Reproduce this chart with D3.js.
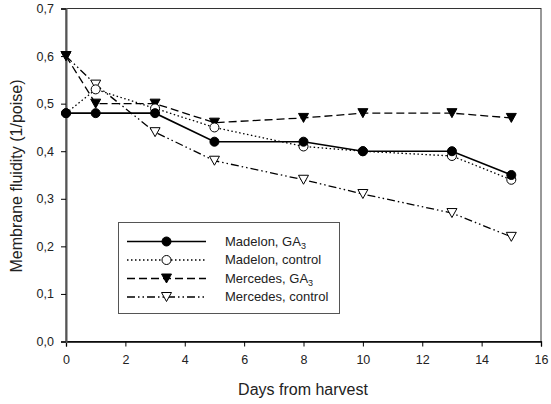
<!DOCTYPE html>
<html>
<head>
<meta charset="utf-8">
<script src="https://cdn.jsdelivr.net/npm/d3@7"></script>
<style>
  html, body { margin: 0; padding: 0; background: #fff; }
  svg { display: block; }
  text { font-family: Arial, "Liberation Sans", sans-serif; fill: #222; }
</style>
</head>
<body>
<svg id="chart" width="551" height="404"></svg>
<script>
// Days after harvest at which membrane fluidity was measured
const days = [0, 1, 3, 5, 8, 10, 13, 15];

// Membrane fluidity (1/poise) per cultivar and treatment
const madelonGA3      = [0.48, 0.48, 0.48, 0.42, 0.42, 0.40, 0.40, 0.35];
const madelonControl  = [0.48, 0.53, 0.49, 0.45, 0.41, 0.40, 0.39, 0.34];
const mercedesGA3     = [0.60, 0.50, 0.50, 0.46, 0.47, 0.48, 0.48, 0.47];
const mercedesControl = [0.60, 0.54, 0.44, 0.38, 0.34, 0.31, 0.27, 0.22];

const seriesNames = ["Madelon, GA", "Madelon, control", "Mercedes, GA", "Mercedes, control"];
const seriesSub   = ["3", "", "3", ""];

const xTicks = [0, 2, 4, 6, 8, 10, 12, 14, 16];
const yTicks = [0, 0.1, 0.2, 0.3, 0.4, 0.5, 0.6, 0.7];

const series = [
  { name: seriesNames[0], sub: seriesSub[0], values: madelonGA3,      dash: null,              marker: "circle",   fill: "#000" },
  { name: seriesNames[1], sub: seriesSub[1], values: madelonControl,  dash: "1.5,2.5",         marker: "circle",   fill: "#fff" },
  { name: seriesNames[2], sub: seriesSub[2], values: mercedesGA3,     dash: "8,4",             marker: "triangle", fill: "#000" },
  { name: seriesNames[3], sub: seriesSub[3], values: mercedesControl, dash: "8,3,1.5,3,1.5,3", marker: "triangle", fill: "#fff" }
];

const svg = d3.select("#chart");
const plotL = 66, plotR = 541, plotT = 8.5, plotB = 341.5;

const x = d3.scaleLinear().domain([0, 16]).range([plotL, plotR]);
const y = d3.scaleLinear().domain([0, 0.7]).range([plotB, plotT]);

const fmt = d => d3.format(".1f")(d).replace(".", ",");

// Frame
svg.append("rect")
  .attr("x", plotL).attr("y", plotT)
  .attr("width", plotR - plotL).attr("height", plotB - plotT)
  .attr("fill", "none").attr("stroke", "#333").attr("stroke-width", 1);

// Axes
const xAxis = svg.append("g")
  .attr("transform", `translate(0,${plotB})`)
  .call(d3.axisBottom(x).tickValues(xTicks).tickFormat(d3.format("d")).tickSizeOuter(0).tickSize(5).tickPadding(9));
const yAxis = svg.append("g")
  .attr("transform", `translate(${plotL},0)`)
  .call(d3.axisLeft(y).tickValues(yTicks).tickFormat(fmt).tickSizeOuter(0).tickSize(5).tickPadding(7));

[xAxis, yAxis].forEach(g => {
  g.select(".domain").attr("stroke", "#000").attr("stroke-width", 1.3);
  g.selectAll(".tick line").attr("stroke", "#000");
  g.selectAll(".tick text").attr("font-size", 12.5).attr("fill", "#222")
    .attr("font-family", "Arial, 'Liberation Sans', sans-serif");
});
yAxis.select(".domain").attr("stroke", "#555").attr("stroke-width", 2);

// Axis titles
svg.append("text")
  .attr("x", 303).attr("y", 394.5)
  .attr("text-anchor", "middle").attr("font-size", 16)
  .text("Days from harvest");
svg.append("text")
  .attr("transform", `translate(22,176) rotate(-90)`)
  .attr("text-anchor", "middle").attr("font-size", 16)
  .text("Membrane fluidity (1/poise)");

// Marker drawing
const circleSym = d3.symbol().type(d3.symbolCircle).size(64);
function triPath(s) {
  // downward-pointing triangle centred on the point
  const h = s * 0.9;
  return `M${-s / 2},${-h / 2}L${s / 2},${-h / 2}L0,${h / 2}Z`;
}
function drawMarker(g, s, cx, cy) {
  const d = s.marker === "circle" ? circleSym() : triPath(10);
  g.append("path").attr("d", d)
    .attr("transform", `translate(${cx},${cy})`)
    .attr("fill", s.fill).attr("stroke", "#000").attr("stroke-width", 1);
}

const line = d3.line().x(d => x(d[0])).y(d => y(d[1]));

// Lines first, then markers on top
const linesG = svg.append("g");
const marksG = svg.append("g");
series.forEach(s => {
  const pts = days.map((d, i) => [d, s.values[i]]);
  linesG.append("path")
    .attr("d", line(pts))
    .attr("fill", "none").attr("stroke", "#000")
    .attr("stroke-width", s.dash ? 1.3 : 1.6)
    .attr("stroke-dasharray", s.dash);
});
[3, 2, 1, 0].forEach(k => {
  const s = series[k];
  days.forEach((d, i) => drawMarker(marksG, s, x(d), y(s.values[i])));
});

// Legend
const lg = svg.append("g");
lg.append("rect")
  .attr("x", 118.5).attr("y", 222.5).attr("width", 221).attr("height", 91)
  .attr("fill", "#fff").attr("stroke", "#555").attr("stroke-width", 1);
const rowY = [241.5, 260, 278.5, 297];
series.forEach((s, i) => {
  lg.append("line")
    .attr("x1", 127).attr("x2", 206).attr("y1", rowY[i]).attr("y2", rowY[i])
    .attr("stroke", "#000").attr("stroke-width", s.dash ? 1.3 : 1.6)
    .attr("stroke-dasharray", s.dash);
  drawMarker(lg, s, 166.5, rowY[i]);
  const t = lg.append("text")
    .attr("x", 225).attr("y", rowY[i] + 4).attr("font-size", 13).attr("fill", "#222");
  t.append("tspan").text(s.name);
  if (s.sub) t.append("tspan").attr("font-size", 9).attr("dy", 3).text(s.sub);
});
</script>
</body>
</html>
